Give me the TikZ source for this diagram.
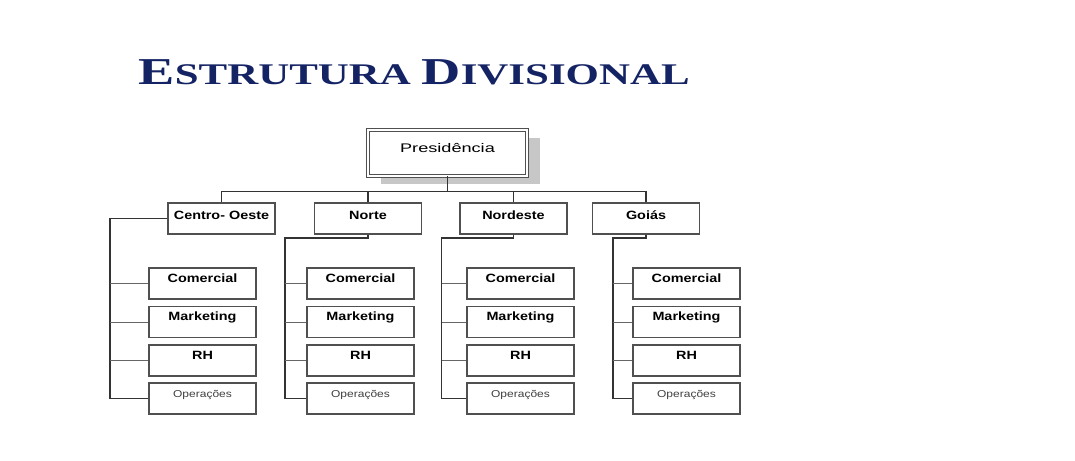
\documentclass[tikz,border=0pt]{standalone}
\usepackage{fontspec}
\setmainfont{Liberation Serif}
\newfontfamily\titlefont[FakeStretch=1.43]{Liberation Serif}
\newfontfamily\presfont[FakeStretch=1.45]{Liberation Sans}
\newfontfamily\orgfont[FakeStretch=1.2]{Liberation Sans}
\usetikzlibrary{shadows}
\definecolor{titleblue}{RGB}{20,35,100}
\definecolor{boxline}{RGB}{80,80,80}
\begin{document}
\begin{tikzpicture}[x=1pt, y=-1pt, line width=1.2pt,
  pres/.style={draw=boxline, line width=0.8pt, double=white, double distance=1.6pt, fill=white, minimum width=159pt, inner sep=0pt, text height=22pt, text depth=24pt, font=\presfont\fontsize{12.5}{14}\selectfont, drop shadow={shadow xshift=13pt, shadow yshift=-8pt, fill=black!22, opacity=1}},
  region/.style={draw=boxline, fill=white, minimum width=107pt, inner sep=0pt, text height=16pt, text depth=15pt, font=\orgfont\bfseries\fontsize{12}{14}\selectfont},
  dept/.style={draw=boxline, fill=white, minimum width=107pt, inner sep=0pt, text height=14pt, text depth=17pt, font=\orgfont\bfseries\fontsize{12}{14}\selectfont},
  ops/.style={dept, font=\orgfont\fontsize{10}{12}\selectfont, text=black!75},
  link/.style={draw=black!80, line width=1.3pt},
  branch/.style={draw=black!60, line width=1pt}]
\fill[white] (0,0) rectangle (1075,460);
\useasboundingbox (0,0) rectangle (1075,460);
% title
\node[anchor=base west, inner sep=0pt, text=titleblue, font=\titlefont\bfseries] (title) at (138,84) {\fontsize{38}{40}\selectfont E\fontsize{30}{32}\selectfont STRUTURA \fontsize{38}{40}\selectfont D\fontsize{30}{32}\selectfont IVISIONAL};
% top
\node[pres] (pres) at (447.5,153) {Presidência};
\coordinate (bus) at (447.5,191.5);
% regions
\node[region] (co) at (221.5,218.5) {Centro- Oeste};
\node[region] (no) at (368,218.5) {Norte};
\node[region] (nd) at (513.5,218.5) {Nordeste};
\node[region] (go) at (646,218.5) {Goiás};
\draw[link] (pres.south) -- (pres.south |- bus);
\draw[link] (co.north) |- (bus) -| (go.north);
\draw[link] (no.north) -- (no.north |- bus);
\draw[link] (nd.north) -- (nd.north |- bus);
% Centro-Oeste
\node[dept] (co1) at (202.5,283.5) {Comercial};
\node[dept] (co2) at (202.5,322) {Marketing};
\node[dept] (co3) at (202.5,360.5) {RH};
\node[ops] (co4) at (202.5,398.5) {Operações};
\coordinate (cos) at (110,218.5);
\draw[link] (co.west) -- (cos) |- (co4.west);
\draw[branch] (cos |- co1.west) -- (co1.west);
\draw[branch] (cos |- co2.west) -- (co2.west);
\draw[branch] (cos |- co3.west) -- (co3.west);
% Norte
\node[dept] (no1) at (360.5,283.5) {Comercial};
\node[dept] (no2) at (360.5,322) {Marketing};
\node[dept] (no3) at (360.5,360.5) {RH};
\node[ops] (no4) at (360.5,398.5) {Operações};
\coordinate (nos) at (285,238);
\draw[link] (no.south) |- (nos) |- (no4.west);
\draw[branch] (nos |- no1.west) -- (no1.west);
\draw[branch] (nos |- no2.west) -- (no2.west);
\draw[branch] (nos |- no3.west) -- (no3.west);
% Nordeste
\node[dept] (nd1) at (520.5,283.5) {Comercial};
\node[dept] (nd2) at (520.5,322) {Marketing};
\node[dept] (nd3) at (520.5,360.5) {RH};
\node[ops] (nd4) at (520.5,398.5) {Operações};
\coordinate (nds) at (441.5,238);
\draw[link] (nd.south) |- (nds) |- (nd4.west);
\draw[branch] (nds |- nd1.west) -- (nd1.west);
\draw[branch] (nds |- nd2.west) -- (nd2.west);
\draw[branch] (nds |- nd3.west) -- (nd3.west);
% Goias
\node[dept] (go1) at (686.5,283.5) {Comercial};
\node[dept] (go2) at (686.5,322) {Marketing};
\node[dept] (go3) at (686.5,360.5) {RH};
\node[ops] (go4) at (686.5,398.5) {Operações};
\coordinate (gos) at (613,238);
\draw[link] (go.south) |- (gos) |- (go4.west);
\draw[branch] (gos |- go1.west) -- (go1.west);
\draw[branch] (gos |- go2.west) -- (go2.west);
\draw[branch] (gos |- go3.west) -- (go3.west);
\end{tikzpicture}
\end{document}
